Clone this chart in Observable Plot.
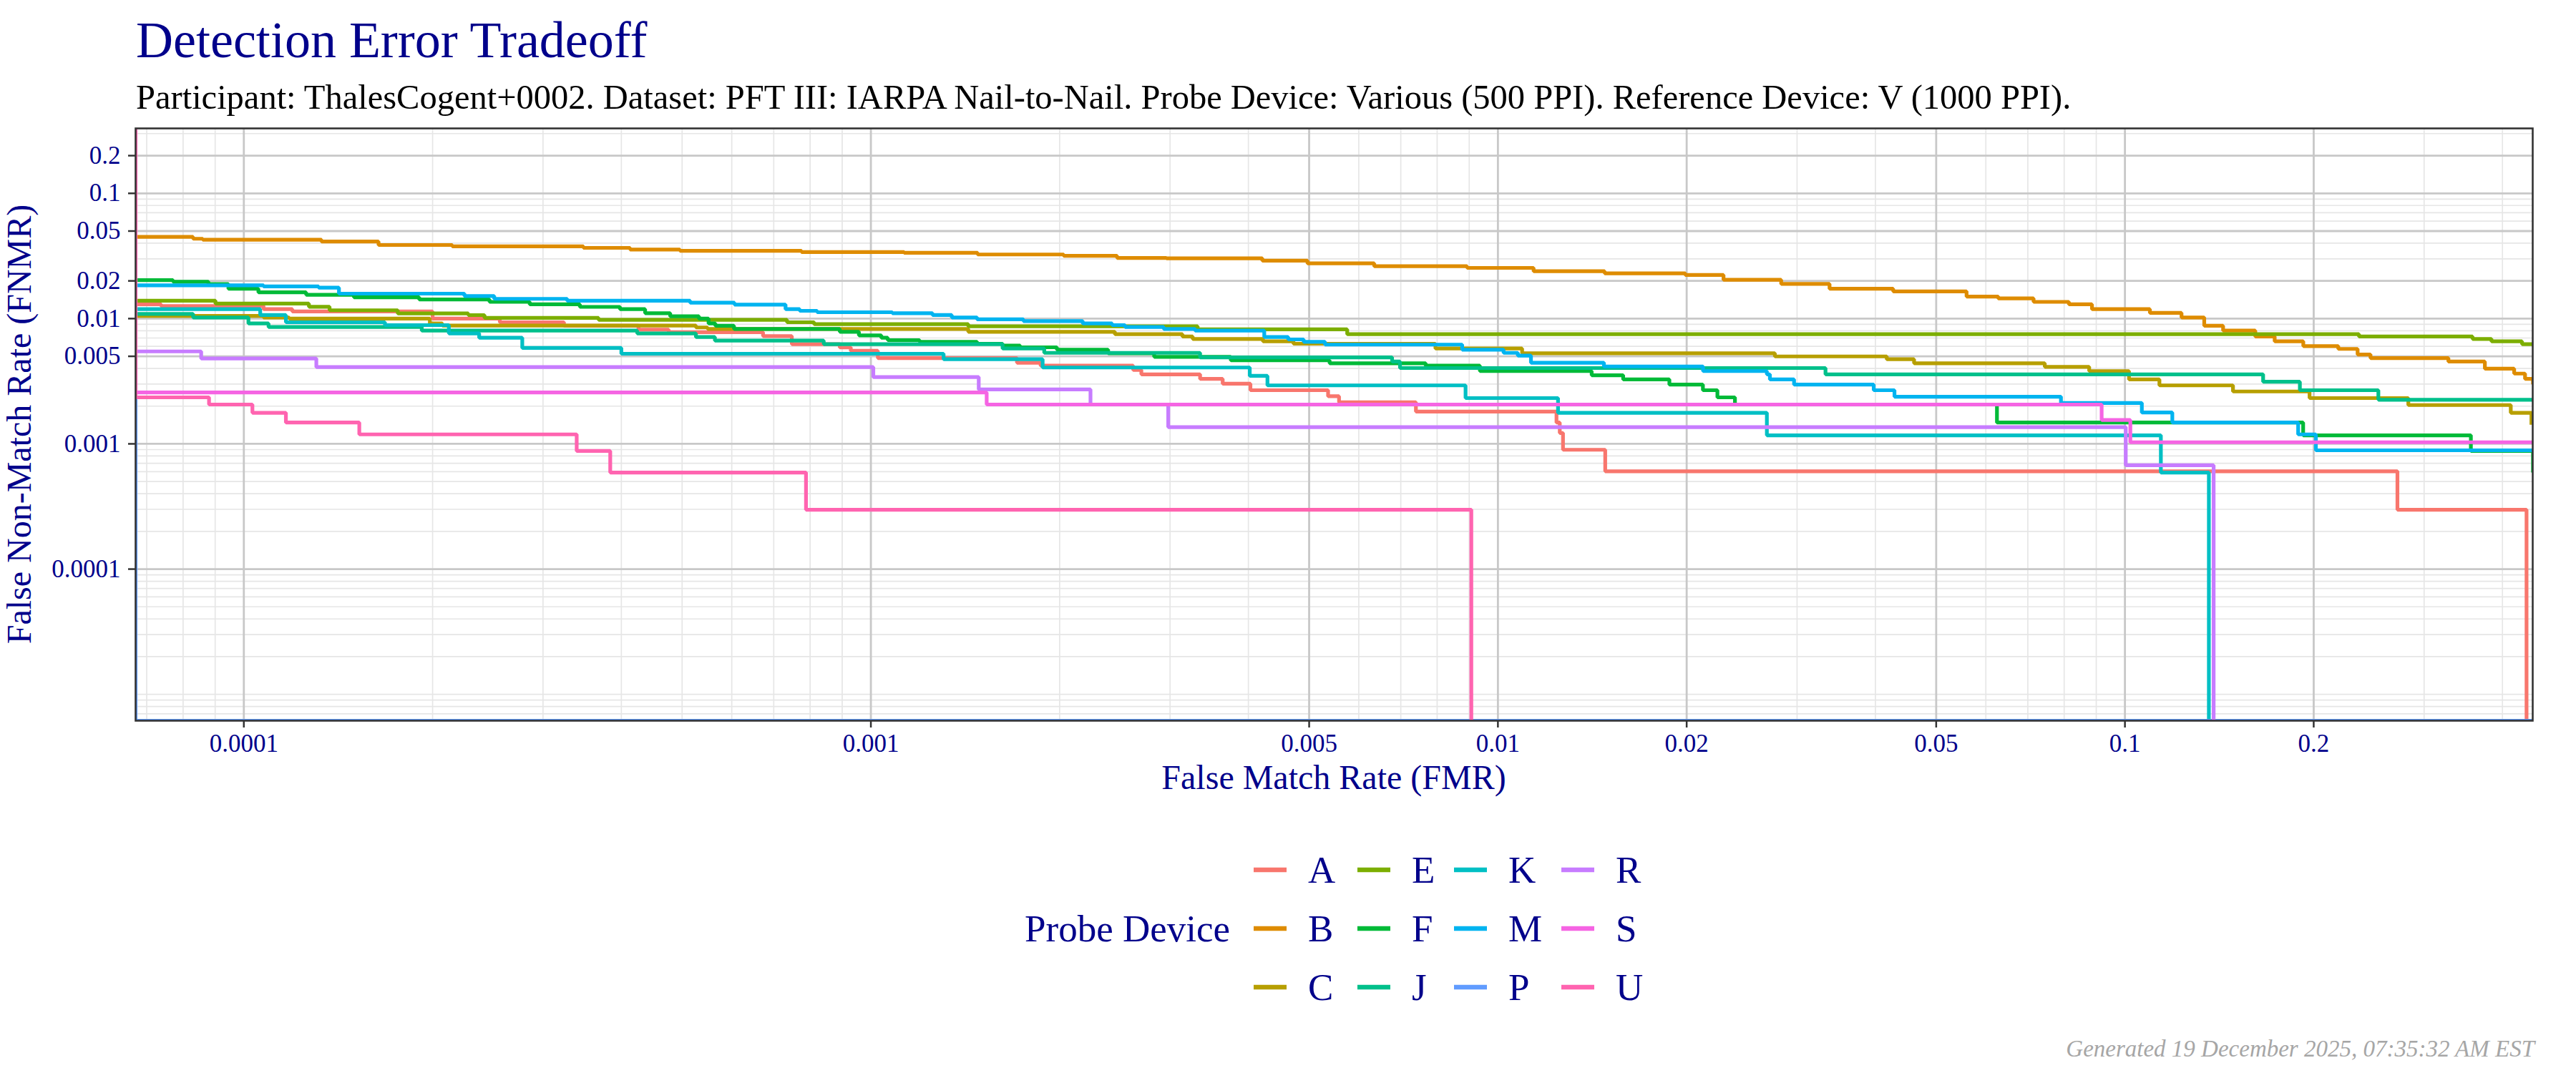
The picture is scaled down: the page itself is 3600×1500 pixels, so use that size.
<!DOCTYPE html>
<html>
<head>
<meta charset="utf-8">
<script src="https://cdn.jsdelivr.net/npm/d3@7"></script>
<script src="https://cdn.jsdelivr.net/npm/@observablehq/plot@0.6"></script>
<style>
html, body { margin: 0; padding: 0; background: #fff; overflow: hidden; }
#wrap { position: relative; width: 3600px; height: 1500px; }
#wrap svg { position: absolute; left: 0; top: 0; max-width: none; }
</style>
</head>
<body>
<div id="wrap"></div>
<script>
// ---------- data ----------
const titleText = "Detection Error Tradeoff";
const subtitleText = "Participant: ThalesCogent+0002. Dataset: PFT III: IARPA Nail-to-Nail. Probe Device: Various (500 PPI). Reference Device: V (1000 PPI).";
const xLabel = "False Match Rate (FMR)";
const yLabel = "False Non-Match Rate (FNMR)";
const legendTitle = "Probe Device";
const captionText = "Generated 19 December 2025, 07:35:32 AM EST";

const devices = ["A", "B", "C", "E", "F", "J", "K", "M", "P", "R", "S", "U"];
const deviceColors = ["#F8766D", "#DE8C00", "#B79F00", "#7CAE00", "#00BA38", "#00C08B", "#00BFC4", "#00B4F0", "#619CFF", "#C77CFF", "#F564E3", "#FF64B0"];

const xTicks = [0.0001, 0.001, 0.005, 0.01, 0.02, 0.05, 0.1, 0.2];
const yTicks = [0.0001, 0.001, 0.005, 0.01, 0.02, 0.05, 0.1, 0.2];
const xDomain = [6.72e-5, 0.447];
const yDomain = [6.16e-6, 0.33];

// each curve: [FMR, FNMR] step points (FNMR 0 = none left, drawn at the floor)
const curveA = [[6.72e-5,0.0130],[7.38e-5,0.0126],[1.075e-4,0.0119],[1.195e-4,0.0114],[2.0e-4,0.00999],[2.56e-4,0.00935],[3.24e-4,0.00876],[4.26e-4,0.00815],[4.76e-4,0.00778],[6.73e-4,0.00725],[7.48e-4,0.00625],[8.92e-4,0.00588],[9.29e-4,0.00553],[1.026e-3,0.00484],[1.71e-3,0.00444],[1.865e-3,0.00421],[2.62e-3,0.00389],[2.70e-3,0.00359],[3.35e-3,0.0033],[3.64e-3,0.00302],[4.03e-3,0.00268],[5.36e-3,0.0024],[5.58e-3,0.00215],[7.40e-3,0.00181],[1.24e-2,0.00148],[1.255e-2,0.00122],[1.27e-2,0.000897],[1.483e-2,0.000604],[0.272,0.000298],[0.437,0]];
const curveB = [[6.72e-5,0.0449],[8.3e-5,0.0434],[8.6e-5,0.0426],[1.33e-4,0.0412],[1.64e-4,0.0387],[2.15e-4,0.0377],[3.48e-4,0.0367],[4.13e-4,0.0356],[4.96e-4,0.0348],[7.75e-4,0.0340],[1.13e-3,0.0335],[1.48e-3,0.0325],[2.03e-3,0.0317],[2.47e-3,0.0305],[2.96e-3,0.0303],[4.21e-3,0.0290],[4.97e-3,0.0276],[6.35e-3,0.0262],[8.93e-3,0.0254],[1.14e-2,0.0239],[1.48e-2,0.0230],[1.99e-2,0.0223],[2.29e-2,0.0204],[2.83e-2,0.0189],[3.38e-2,0.0173],[4.27e-2,0.0165],[5.59e-2,0.0150],[6.28e-2,0.0145],[7.15e-2,0.0136],[8.14e-2,0.0130],[8.86e-2,0.0119],[0.1096,0.0111],[0.1231,0.0102],[0.1338,0.00876],[0.1434,0.00802],[0.1614,0.00719],[0.1733,0.00658],[0.1925,0.00603],[0.2189,0.00573],[0.235,0.00517],[0.2464,0.00484],[0.328,0.00454],[0.375,0.00398],[0.4176,0.00364],[0.4346,0.0033],[0.4475,0.00299]];
const curveC = [[6.72e-5,0.0105],[1.075e-4,0.0102],[1.181e-4,0.00999],[1.98e-4,0.00915],[2.073e-4,0.0088],[5.26e-4,0.0085],[5.49e-4,0.00827],[1.43e-3,0.00785],[2.45e-3,0.00751],[3.14e-3,0.00719],[3.26e-3,0.00688],[4.22e-3,0.00658],[4.72e-3,0.0063],[7.95e-3,0.00577],[1.093e-2,0.00529],[2.765e-2,0.00499],[4.17e-2,0.00474],[4.61e-2,0.0044],[7.45e-2,0.00412],[8.77e-2,0.00381],[0.1015,0.00327],[0.1135,0.00293],[0.1487,0.00262],[0.197,0.00232],[0.2831,0.00204],[0.4124,0.00177],[0.4449,0.00142]];
const curveE = [[6.72e-5,0.0139],[9.01e-5,0.01317],[1.27e-4,0.01244],[1.37e-4,0.01165],[1.76e-4,0.01099],[2.28e-4,0.01066],[2.42e-4,0.01012],[3.68e-4,0.00977],[7.35e-4,0.00935],[8.12e-4,0.00903],[1.43e-3,0.00868],[3.32e-3,0.0082],[5.75e-3,0.00751],[0.2362,0.00719],[0.3584,0.00688],[0.3842,0.00658],[0.4298,0.00625],[0.4475,0.00625]];
const curveF = [[6.72e-5,0.0203],[7.71e-5,0.0197],[8.78e-5,0.01885],[9.45e-5,0.0173],[1.055e-4,0.0162],[1.257e-4,0.0155],[1.498e-4,0.0148],[1.904e-4,0.0142],[2.465e-4,0.0136],[2.857e-4,0.0130],[3.435e-4,0.0124],[3.98e-4,0.0119],[4.365e-4,0.01105],[4.786e-4,0.01043],[5.32e-4,0.0100],[5.51e-4,0.00915],[5.65e-4,0.00876],[6.05e-4,0.00827],[8.92e-4,0.00785],[9.57e-4,0.00735],[1.039e-3,0.00703],[1.064e-3,0.00673],[1.196e-3,0.00653],[1.477e-3,0.0063],[1.622e-3,0.00608],[1.73e-3,0.0059],[1.98e-3,0.00565],[2.39e-3,0.00529],[2.83e-3,0.00495],[3.75e-3,0.00464],[5.39e-3,0.0044],[7.67e-3,0.00421],[9.36e-3,0.00381],[1.411e-2,0.00353],[1.584e-2,0.00327],[1.877e-2,0.00297],[2.123e-2,0.00268],[2.239e-2,0.00235],[2.388e-2,0.00206],[6.25e-2,0.00148],[0.1924,0.00117],[0.3562,0.000877],[0.4475,0.00059]];
const curveJ = [[6.72e-5,0.0109],[8.3e-5,0.01021],[1.017e-4,0.00915],[1.095e-4,0.00856],[1.922e-4,0.00802],[4.24e-4,0.00762],[5.26e-4,0.00712],[5.64e-4,0.00667],[8.41e-4,0.00625],[1.622e-3,0.00577],[1.89e-3,0.00533],[3.35e-3,0.0049],[6.78e-3,0.00454],[6.98e-3,0.00403],[3.33e-2,0.00359],[0.1661,0.00313],[0.1901,0.00268],[0.2536,0.00225],[0.4475,0.00225]];
const curveK = [[6.72e-5,0.0119],[1.062e-4,0.01067],[1.167e-4,0.00935],[1.679e-4,0.00887],[2.123e-4,0.00762],[2.373e-4,0.00703],[2.78e-4,0.00583],[4.0e-4,0.00524],[1.306e-3,0.00474],[1.879e-3,0.00407],[4.02e-3,0.00349],[4.29e-3,0.00293],[8.88e-3,0.00232],[1.247e-2,0.00177],[2.685e-2,0.00117],[0.1141,0.00059],[0.1361,0]];
const curveM = [[6.72e-5,0.01845],[1.075e-4,0.01805],[1.316e-4,0.01765],[1.418e-4,0.01582],[2.248e-4,0.01515],[2.508e-4,0.01438],[3.279e-4,0.01388],[5.15e-4,0.01339],[6.06e-4,0.01294],[7.31e-4,0.0119],[7.70e-4,0.01154],[8.21e-4,0.01124],[1.082e-3,0.01105],[1.254e-3,0.01067],[1.346e-3,0.01021],[1.477e-3,0.00986],[1.751e-3,0.00956],[2.177e-3,0.00915],[2.425e-3,0.00887],[2.543e-3,0.00856],[2.931e-3,0.00827],[3.289e-3,0.00802],[4.24e-3,0.00712],[4.63e-3,0.00682],[4.90e-3,0.00653],[5.30e-3,0.0062],[8.77e-3,0.00565],[1.021e-2,0.00533],[1.076e-2,0.00506],[1.129e-2,0.00444],[1.476e-2,0.00415],[2.124e-2,0.00381],[2.685e-2,0.00359],[2.715e-2,0.00327],[2.967e-2,0.00297],[3.975e-2,0.00268],[4.29e-2,0.00238],[7.906e-2,0.00212],[0.1064,0.00178],[0.119,0.00148],[0.1889,0.00119],[0.2016,0.000888],[0.4475,0.000888]];
const curveP = [[6.72e-5,0.0055],[6.72e-5,0],[0.4475,0]];
const curveR = [[6.72e-5,0.00547],[8.55e-5,0.0048],[1.305e-4,0.0041],[1.009e-3,0.00341],[1.486e-3,0.00272],[2.24e-3,0.00206],[2.98e-3,0.00136],[0.1003,0.000674],[0.1385,0]];
const curveS = [[6.72e-5,0.00257],[1.53e-3,0.00206],[0.0918,0.00155],[0.102,0.00103],[0.4475,0.00103]];
const curveU = [[6.72e-5,1],[6.72e-5,0.00235],[8.80e-5,0.00206],[1.032e-4,0.00177],[1.167e-4,0.00148],[1.528e-4,0.00119],[3.395e-4,0.000877],[3.84e-4,0.00059],[7.88e-4,0.000298],[9.07e-3,0]];

const curves = [curveA, curveB, curveC, curveE, curveF, curveJ, curveK, curveM, curveP, curveR, curveS, curveU];

// ---------- table for the library ----------
const rows = [];
devices.forEach((dev, i) => curves[i].forEach(([fmr, fnmr]) => rows.push({device: dev, fmr, fnmr})));

// minor grid positions (m x 10^k inside the domain)
function minorGrid(domain) {
  const out = [];
  for (let e = -6; e <= 0; e++) for (let m = 1; m <= 9; m++) {
    const v = +(m * Math.pow(10, e)).toPrecision(6);
    if (v >= domain[0] && v <= domain[1]) out.push(v);
  }
  return out;
}
const xMinor = minorGrid(xDomain);
const yMinor = minorGrid(yDomain);

const FONT = "'Liberation Serif', 'Times New Roman', serif";
const NAVY = "#00008B";

const chart = Plot.plot({
  width: 3600,
  height: 1500,
  marginLeft: 189,
  marginRight: 61,
  marginTop: 179,
  marginBottom: 493,
  x: {type: "log", domain: xDomain},
  y: {type: "log", domain: yDomain},
  color: {domain: devices, range: deviceColors},
  style: {fontFamily: FONT, background: "white"},
  marks: [
    Plot.ruleX(xMinor, {stroke: "#E6E6E6", strokeWidth: 1.7}),
    Plot.ruleY(yMinor, {stroke: "#E6E6E6", strokeWidth: 1.7}),
    Plot.ruleX(xTicks, {stroke: "#C8C8C8", strokeWidth: 2.8}),
    Plot.ruleY(yTicks, {stroke: "#C8C8C8", strokeWidth: 2.8}),
    Plot.line(rows, {
      x: "fmr",
      y: d => d.fnmr > 0 ? d.fnmr : yDomain[0],
      z: "device",
      stroke: "device",
      curve: "step-after",
      strokeWidth: 5.2,
      strokeLinejoin: "miter",
      strokeLinecap: "butt",
      clip: true
    }),
    Plot.frame({stroke: "#333333", strokeWidth: 2.6}),
    Plot.axisX(xTicks, {tickFormat: d => String(d), tickSize: 10, tickPadding: 9, stroke: "#333333", strokeWidth: 2.5, fill: NAVY, fontSize: 35, label: null}),
    Plot.axisY(yTicks, {tickFormat: d => String(d), tickSize: 10, tickPadding: 11, stroke: "#333333", strokeWidth: 2.5, fill: NAVY, fontSize: 35, label: null})
  ]
});
document.getElementById("wrap").appendChild(chart);

// ---------- titles, axis titles, legend, caption ----------
const ov = d3.select("#wrap").append("svg")
  .attr("width", 3600).attr("height", 1500)
  .style("font-family", FONT);

ov.append("text").attr("x", 190).attr("y", 80).attr("font-size", 72).attr("fill", NAVY).text(titleText);
ov.append("text").attr("x", 190).attr("y", 152).attr("font-size", 48.5).attr("fill", "#000").text(subtitleText);

ov.append("text").attr("x", 1864).attr("y", 1103).attr("text-anchor", "middle")
  .attr("font-size", 48).attr("fill", NAVY).text(xLabel);
ov.append("text").attr("transform", "translate(43,593) rotate(-90)").attr("text-anchor", "middle")
  .attr("font-size", 48).attr("fill", NAVY).text(yLabel);

// legend: 3 rows, filled by column
const legRows = [1216, 1298, 1380];
const legCols = [1752, 1897, 2032, 2182];
ov.append("text").attr("x", 1432).attr("y", legRows[1] + 18).attr("font-size", 53).attr("fill", NAVY).text(legendTitle);
devices.forEach((dev, i) => {
  const c = Math.floor(i / 3), r = i % 3;
  const x0 = legCols[c], yc = legRows[r];
  ov.append("line").attr("x1", x0).attr("x2", x0 + 46).attr("y1", yc).attr("y2", yc)
    .attr("stroke", deviceColors[i]).attr("stroke-width", 6.5);
  ov.append("text").attr("x", x0 + 76).attr("y", yc + 18).attr("font-size", 53).attr("fill", NAVY).text(dev);
});

ov.append("text").attr("x", 3542).attr("y", 1477).attr("text-anchor", "end")
  .attr("font-size", 33).attr("font-style", "italic").attr("fill", "#A6A6A6").text(captionText);
</script>
</body>
</html>
